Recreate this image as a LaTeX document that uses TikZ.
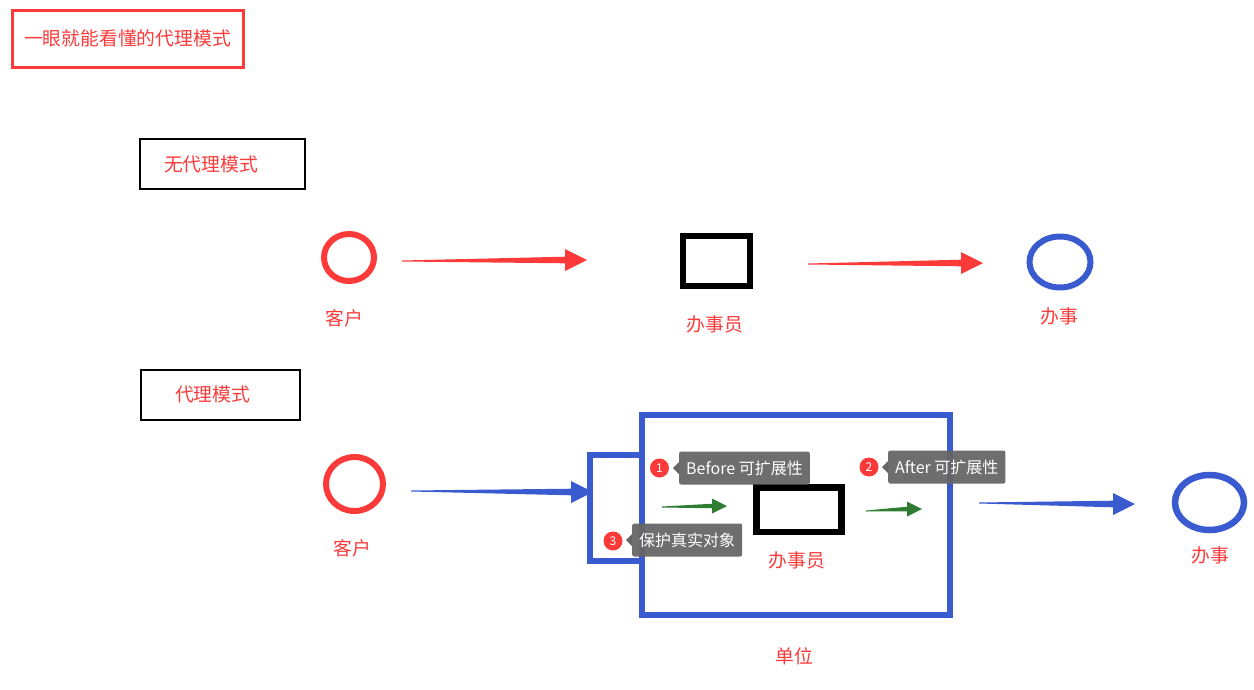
\documentclass[tikz,border=0pt]{standalone}
\usepackage{fontspec}
\newfontfamily\cjk{Noto Sans CJK SC}
\usetikzlibrary{shapes.geometric,calc}
\definecolor{myred}{RGB}{252,58,58}
\definecolor{myblue}{RGB}{58,90,208}
\definecolor{mygreen}{RGB}{46,125,50}
\definecolor{tipgray}{RGB}{102,102,102}
\tikzset{
	lbl/.style={text=myred, font=\cjk\fontsize{18.8}{20}\selectfont, inner sep=0pt},
	modebox/.style={lbl, draw=black, line width=2pt, align=left, minimum height=50pt},
	tag/.style={fill=tipgray, fill opacity=0.95, text opacity=1, text=white, rounded corners=2pt,
		font=\cjk\fontsize{16}{17}\selectfont, minimum height=33pt, inner xsep=7pt, anchor=west},
	num/.style={circle, fill=myred, text=white, minimum size=19pt, inner sep=0pt,
		font=\cjk\fontsize{12}{12}\selectfont},
}
% tapered arrow: colour, start, tip, head length, head half width
\newcommand{\fatarrow}[5]{%
	\fill[#1] ($(#2)+(0,0.5)$) -- ($(#3)+(-#4,0.3*#5)$) -- ($(#3)+(-#4,#5)$) -- (#3)
	-- ($(#3)+(-#4,-#5)$) -- ($(#3)+(-#4,-0.3*#5)$) -- ($(#2)+(0,-0.5)$) -- cycle;}
% little pointer on the left of a tag
\newcommand{\tagtip}[1]{%
	\fill[tipgray] ($(#1.west)+(0,-6)$) -- ++(-6,6) -- ++(6,6) -- cycle;}
\begin{document}
\begin{tikzpicture}[x=1pt, y=-1pt]
	\useasboundingbox (0,0) rectangle (1254,689);
	% title
	\node[lbl, draw=myred, line width=3pt, minimum width=231pt, minimum height=57pt] (title) at (127.5,38.5) {一眼就能看懂的代理模式};
	% without proxy
	\node[modebox, text width=117pt, inner xsep=24pt] (nomode) at (222.5,164) {无代理模式};
	\node[ellipse, draw=myred, line width=6pt, minimum width=50pt, minimum height=47pt] (kehu1) at (349,257.5) {};
	\node[lbl] (kehu1lbl) at (344,318) {客户};
	\node[draw=black, line width=6pt, minimum width=67pt, minimum height=50pt] (clerk1) at (716.5,261) {};
	\node[lbl] (clerk1lbl) at (715,324) {办事员};
	\node[ellipse, draw=myblue, line width=6pt, minimum width=61pt, minimum height=51pt] (job1) at (1060,262) {};
	\node[lbl] (job1lbl) at (1059,316) {办事};
	\coordinate (r1s) at (402,261);
	\coordinate (r1e) at (587,260);
	\coordinate (r2s) at (808,264);
	\coordinate (r2e) at (983,263);
	\fatarrow{myred}{r1s}{r1e}{22}{11}
	\fatarrow{myred}{r2s}{r2e}{22}{11}
	% with proxy
	\node[modebox, text width=91pt, inner xsep=34pt] (mode) at (220.5,394.5) {代理模式};
	\node[ellipse, draw=myred, line width=6pt, minimum width=57pt, minimum height=54pt] (kehu2) at (354.5,484) {};
	\node[lbl] (kehu2lbl) at (352,548) {客户};
	\draw[myblue, line width=6pt] (641.5,454.5) -| (590,560.5) -- (641.5,560.5);
	\node[draw=myblue, line width=6.5pt, minimum width=308pt, minimum height=200pt] (unit) at (796,515) {};
	\node[lbl] (unitlbl) at (794,656) {单位};
	\node[draw=black, line width=6.5pt, minimum width=85pt, minimum height=44.5pt] (clerk2) at (799,509.8) {};
	\node[lbl] (clerk2lbl) at (797,560) {办事员};
	\node[ellipse, draw=myblue, line width=6.5pt, minimum width=69pt, minimum height=55pt] (job2) at (1209.5,502.5) {};
	\node[lbl] (job2lbl) at (1210,555) {办事};
	\coordinate (b1s) at (411,491);
	\coordinate (b1e) at (593,492);
	\coordinate (b2s) at (979,503);
	\coordinate (b2e) at (1135,504);
	\coordinate (g1s) at (662,507);
	\coordinate (g1e) at (727,506);
	\coordinate (g2s) at (866,511);
	\coordinate (g2e) at (922,509);
	\fatarrow{myblue}{b1s}{b1e}{22}{11}
	\fatarrow{myblue}{b2s}{b2e}{22}{11}
	\fatarrow{mygreen}{g1s}{g1e}{15}{7.5}
	\fatarrow{mygreen}{g2s}{g2e}{15}{7.5}
	% tags
	\node[tag] (tag1) at (679,468) {Before 可扩展性};
	\tagtip{tag1}
	\node[num] (num1) at (659.5,468) {1};
	\node[tag] (tag2) at (888,467) {After 可扩展性};
	\tagtip{tag2}
	\node[num] (num2) at (869,467) {2};
	\node[tag] (tag3) at (632,540) {保护真实对象};
	\tagtip{tag3}
	\node[num] (num3) at (613,541) {3};
\end{tikzpicture}
\end{document}
